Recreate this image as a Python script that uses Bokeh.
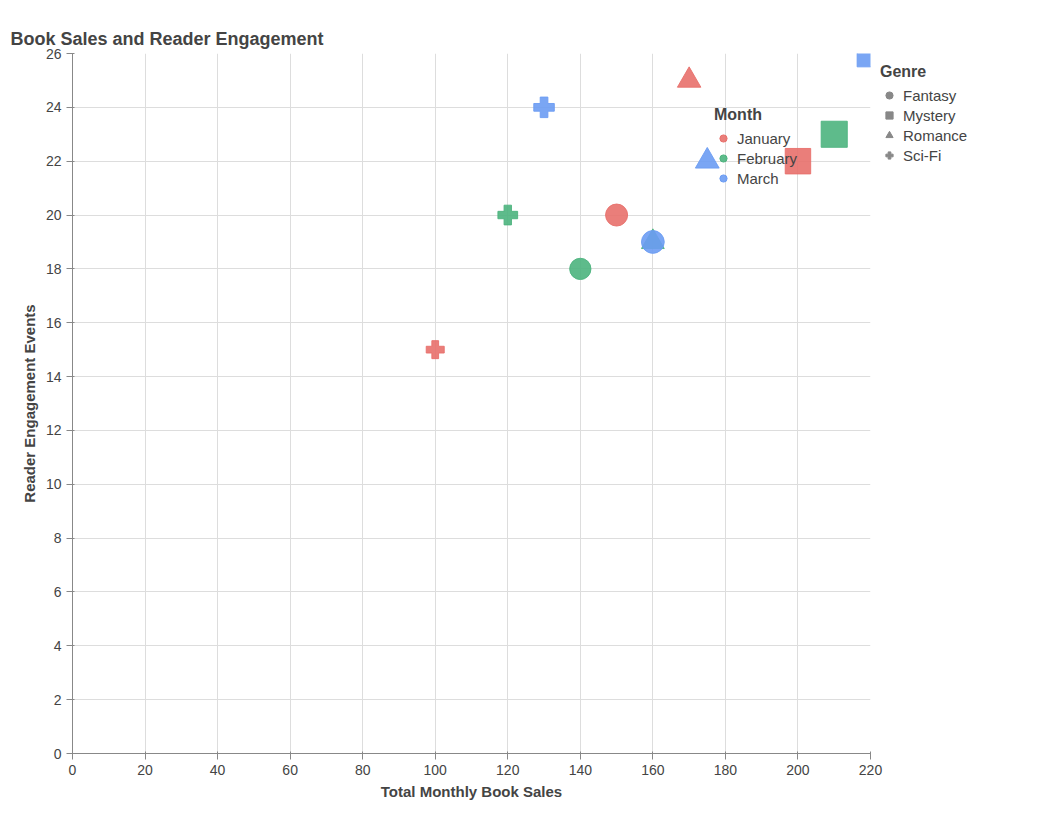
from bokeh.plotting import figure
from bokeh.models import ColumnDataSource, FixedTicker, Legend, LegendItem, Range1d
from bokeh.embed import file_html
from bokeh.resources import INLINE

months = ["January"] * 4 + ["February"] * 4 + ["March"] * 4
genres = ["Fantasy", "Mystery", "Romance", "Sci-Fi"] * 3
sales = [150, 200, 170, 100, 140, 210, 160, 120, 160, 220, 175, 130]
events = [20, 22, 25, 15, 18, 23, 19, 20, 19, 26, 22, 24]

month_colors = {"January": "#e8706b", "February": "#4db47e", "March": "#6b9cf3"}
genre_markers = {"Fantasy": "circle", "Mystery": "square", "Romance": "triangle", "Sci-Fi": "plus"}

src = ColumnDataSource(dict(
    x=sales, y=events,
    color=[month_colors[m] for m in months],
    marker=[genre_markers[g] for g in genres],
    size=[s ** 0.5 * 1.8 for s in sales],
))

p = figure(frame_width=798, frame_height=700, output_backend="svg", toolbar_location=None,
           x_range=Range1d(0, 220), y_range=Range1d(0, 26),
           title="Book Sales and Reader Engagement",
           min_border_left=72, min_border_right=140, min_border_top=53, min_border_bottom=67)
p.title.text_font = "Liberation Sans"
p.title.text_font_size = "18px"
p.title.offset = -62
p.outline_line_color = None

p.scatter("x", "y", source=src, marker="marker", size="size", fill_color="color",
          line_color="color", fill_alpha=0.9, line_alpha=0.9)

for ax, lab in ((p.xaxis, "Total Monthly Book Sales"), (p.yaxis, "Reader Engagement Events")):
    ax.axis_label = lab
    ax.axis_label_text_font = "Liberation Sans"
    ax.axis_label_text_font_style = "bold"
    ax.axis_label_text_font_size = "15px"
    ax.major_label_text_font = "Liberation Sans"
    ax.major_label_text_font_size = "14px"
    ax.axis_line_color = "#888888"
    ax.major_tick_line_color = "#888888"
    ax.minor_tick_line_color = None
p.xaxis.ticker = FixedTicker(ticks=list(range(0, 221, 20)))
p.yaxis.ticker = FixedTicker(ticks=list(range(0, 27, 2)))
p.grid.grid_line_color = "#dddddd"

month_items = []
for m, c in month_colors.items():
    r = p.scatter([-1000], [-1000], marker="circle", size=16, fill_color=c, line_color=c, fill_alpha=0.9)
    month_items.append(LegendItem(label=m, renderers=[r]))
genre_items = []
for g, mk in genre_markers.items():
    r = p.scatter([-1000], [-1000], marker=mk, size=16, fill_color="#888888", line_color="#888888")
    genre_items.append(LegendItem(label=g, renderers=[r]))

for items, title, loc, place in ((month_items, "Month", (642, 566), "center"),
                                 (genre_items, "Genre", "top_left", "right")):
    lg = Legend(items=items, title=title, location=loc, background_fill_alpha=0,
                border_line_color=None, label_text_font="Liberation Sans",
                label_text_font_size="15px", title_text_font="Liberation Sans",
                title_text_font_style="bold", title_text_font_size="16px",
                glyph_width=18, glyph_height=18, spacing=2, padding=4, label_height=18)
    p.add_layout(lg, place)

open("out.html", "w").write(file_html(p, INLINE))
